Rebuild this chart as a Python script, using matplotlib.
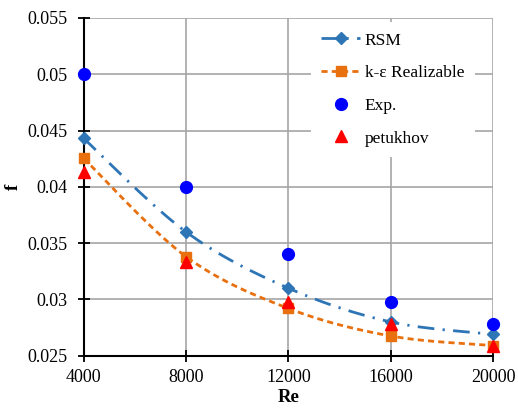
import numpy as np
import matplotlib
matplotlib.use("Agg")
import matplotlib.pyplot as plt
from matplotlib.lines import Line2D

plt.rcParams['font.family'] = ['Liberation Serif', 'DejaVu Serif']

re_vals = [4000, 8000, 12000, 16000, 20000]
rsm = [0.0443, 0.0360, 0.0310, 0.0280, 0.0269]
ke = [0.04253, 0.0338, 0.0292, 0.02675, 0.0259]
exp_vals = [0.0500, 0.0400, 0.0340, 0.0298, 0.0278]
petukhov = [0.04135, 0.03335, 0.02974, 0.0278, 0.0259]

x_ticks = [4000, 8000, 12000, 16000, 20000]
y_ticks = [0.025, 0.03, 0.035, 0.04, 0.045, 0.05, 0.055]
y_tick_labels = ['0.025', '0.03', '0.035', '0.04', '0.045', '0.05', '0.055']


def smooth(xs, ys, n=40):
    # Catmull-Rom style smoothing (like Excel's smoothed line) for drawing only
    xs = np.asarray(xs, float)
    ys = np.asarray(ys, float)
    px = np.concatenate([[xs[0]], xs, [xs[-1]]])
    py = np.concatenate([[ys[0]], ys, [ys[-1]]])
    ox, oy = [], []
    for i in range(1, len(px) - 2):
        p0 = np.array([px[i - 1], py[i - 1]])
        p1 = np.array([px[i], py[i]])
        p2 = np.array([px[i + 1], py[i + 1]])
        p3 = np.array([px[i + 2], py[i + 2]])
        c1 = p1 + (p2 - p0) / 6.0
        c2 = p2 - (p3 - p1) / 6.0
        t = np.linspace(0, 1, n)[:, None]
        b = ((1 - t) ** 3) * p1 + 3 * ((1 - t) ** 2) * t * c1 + 3 * (1 - t) * t ** 2 * c2 + t ** 3 * p2
        ox.extend(b[:, 0]); oy.extend(b[:, 1])
    return np.array(ox), np.array(oy)


fig = plt.figure(figsize=(5.18, 4.11), dpi=100)
ax = fig.add_axes([83.7 / 518, 1 - 355.7 / 411, (493 - 83.7) / 518, (355.7 - 18) / 411])

blue_line = '#2e75b6'
orange = '#e8700f'
rsm_dash = (6, 3, 0.8, 3)
ke_dash = (2.2, 1.5)

sx, sy = smooth(re_vals, rsm)
ax.plot(sx, sy, color=blue_line, lw=2.0, dashes=rsm_dash, zorder=3)
ax.plot(re_vals, rsm, ls='none', marker='D', ms=6.5, color=blue_line, zorder=4, clip_on=False)

sx, sy = smooth(re_vals, ke)
ax.plot(sx, sy, color=orange, lw=2.0, dashes=ke_dash, zorder=3)
ax.plot(re_vals, ke, ls='none', marker='s', ms=6.5, color=orange, zorder=4, clip_on=False)

ax.plot(re_vals, exp_vals, ls='none', marker='o', ms=8.5, color='#0000ff', zorder=5, clip_on=False)
ax.plot(re_vals, petukhov, ls='none', marker='^', ms=8, color='#ff0000', zorder=6, clip_on=False)

ax.set_xlim(4000, 20000)
ax.set_ylim(0.025, 0.055)
ax.set_xticks(x_ticks)
ax.set_xticklabels([str(v) for v in x_ticks])
ax.set_yticks(y_ticks)
ax.set_yticklabels(y_tick_labels)
ax.tick_params(direction='inout', length=9, width=1.3, labelsize=13, color='black')
ax.tick_params(axis='y', pad=7)
ax.tick_params(axis='x', pad=5)
ax.grid(True, color='#a6a6a6', lw=1.2, zorder=0)
ax.set_axisbelow(True)
for s in ['top', 'right']:
    ax.spines[s].set_visible(False)
for s in ['left', 'bottom']:
    ax.spines[s].set_linewidth(1.5)
    ax.spines[s].set_zorder(2)

ax.set_xlabel('Re', fontsize=13.5, fontweight='bold', labelpad=2)
ax.set_ylabel('f', fontsize=13.5, fontweight='bold', labelpad=4)

handles = [
    Line2D([], [], color=blue_line, lw=2.0, dashes=rsm_dash, marker='D', ms=6.5),
    Line2D([], [], color=orange, lw=2.0, dashes=ke_dash, marker='s', ms=6.5),
    Line2D([], [], ls='none', marker='o', ms=8.5, color='#0000ff'),
    Line2D([], [], ls='none', marker='^', ms=8, color='#ff0000'),
]
labels = ['RSM', 'k-ε Realizable', 'Exp.', 'petukhov']
leg = fig.legend(handles, labels, loc='upper left', bbox_to_anchor=(311 / 518, 1 - 22 / 411),
                 fontsize=12.5, frameon=True, fancybox=False, facecolor='white', edgecolor='none',
                 framealpha=1, labelspacing=0.95, handlelength=2.2, handletextpad=0.3,
                 borderpad=0.6, borderaxespad=0)
leg.set_zorder(10)

fig.savefig('out.png', dpi=100)
